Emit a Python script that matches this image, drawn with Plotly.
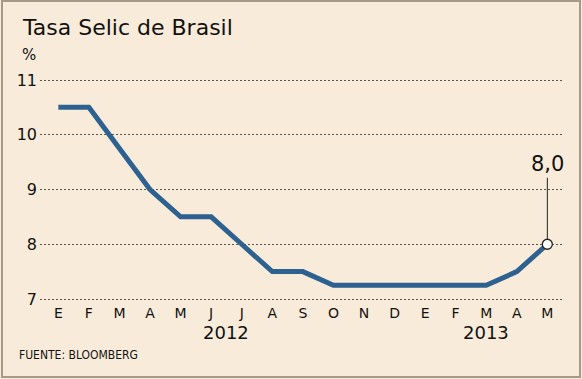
import plotly.graph_objects as go

months = ["E", "F", "M", "A", "M", "J", "J", "A", "S", "O", "N", "D",
          "E", "F", "M", "A", "M"]
rates = [10.5, 10.5, 9.75, 9.0, 8.5, 8.5, 8.0, 7.5, 7.5, 7.25, 7.25, 7.25,
         7.25, 7.25, 7.25, 7.5, 8.0]
years = ["2012", "2013"]
year_pos = [5.5, 14.0]
y_ticks = [7, 8, 9, 10, 11]
last_label = "8,0"

W, H = 582, 379
L, R, T, B = 40, 20, 76, 77
PW, PH = W - L - R, H - T - B
# pixel mapping: 11 -> y=80, 7 -> y=299
UPY = (299 - 80) / 4.0
ymax = 11 + (80 - T) / UPY
ymin = 7 - ((H - B) - 299) / UPY


def px(x):
    return (x - L) / PW


def py(y):
    return (H - B - y) / PH


bg = "#f9ebd9"
line_col = "#2c6190"
txt = "#111111"
font = "DejaVu Sans"

xs = list(range(len(months)))

fig = go.Figure()
fig.add_trace(go.Scatter(x=xs, y=rates, mode="lines",
                         line=dict(color=line_col, width=5),
                         hoverinfo="skip"))
fig.add_trace(go.Scatter(x=[xs[-1]], y=[rates[-1]], mode="markers",
                         marker=dict(color="white", size=10,
                                     line=dict(color="#222222", width=1.3)),
                         hoverinfo="skip"))

fig.add_annotation(x=xs[-1], y=rates[-1], text=last_label, showarrow=True,
                   arrowhead=0, arrowwidth=1, arrowcolor="#222222",
                   ax=0, ay=-80, font=dict(family=font, size=21, color=txt),
                   standoff=5)

for yr, pos in zip(years, year_pos):
    fig.add_annotation(x=pos, xref="x", y=py(332), yref="paper",
                       text=yr, showarrow=False, xanchor="center",
                       yanchor="middle",
                       font=dict(family=font, size=18, color=txt))

fig.add_annotation(x=px(20), y=py(28), xref="paper", yref="paper",
                   text="Tasa Selic de Brasil", showarrow=False,
                   xanchor="left", yanchor="middle",
                   font=dict(family=font, size=22, color=txt))
fig.add_annotation(x=px(20), y=py(55), xref="paper", yref="paper",
                   text="%", showarrow=False, xanchor="left", yanchor="middle",
                   font=dict(family=font, size=15, color=txt))
fig.add_annotation(x=px(17), y=py(355), xref="paper", yref="paper",
                   text="FUENTE: BLOOMBERG", showarrow=False,
                   xanchor="left", yanchor="middle",
                   font=dict(family="DejaVu Sans Condensed", size=12, color=txt))

fig.add_shape(type="rect", xref="paper", yref="paper",
              x0=px(2), x1=px(580), y0=py(377), y1=py(1),
              line=dict(color="#a89888", width=2), layer="below")

fig.update_layout(
    width=W, height=H, margin=dict(l=L, r=R, t=T, b=B, pad=0),
    paper_bgcolor=bg, plot_bgcolor=bg, showlegend=False,
    xaxis=dict(range=[-0.6, 16.48], tickvals=xs, ticktext=months,
               showgrid=False, zeroline=False, showline=False, ticks="",
               tickfont=dict(family=font, size=14, color=txt),
               ticklabelstandoff=1, fixedrange=True),
    yaxis=dict(range=[ymin, ymax], tickvals=y_ticks,
               showgrid=True, gridcolor="#555555", gridwidth=1,
               griddash="2px,2px", zeroline=False, showline=False, ticks="",
               tickfont=dict(family=font, size=16, color=txt),
               ticklabelstandoff=2, fixedrange=True),
)

fig.write_html("out.html", config={"displayModeBar": False},
               post_script="document.body.style.margin='0';"
                           "document.body.style.background='" + bg + "';")
